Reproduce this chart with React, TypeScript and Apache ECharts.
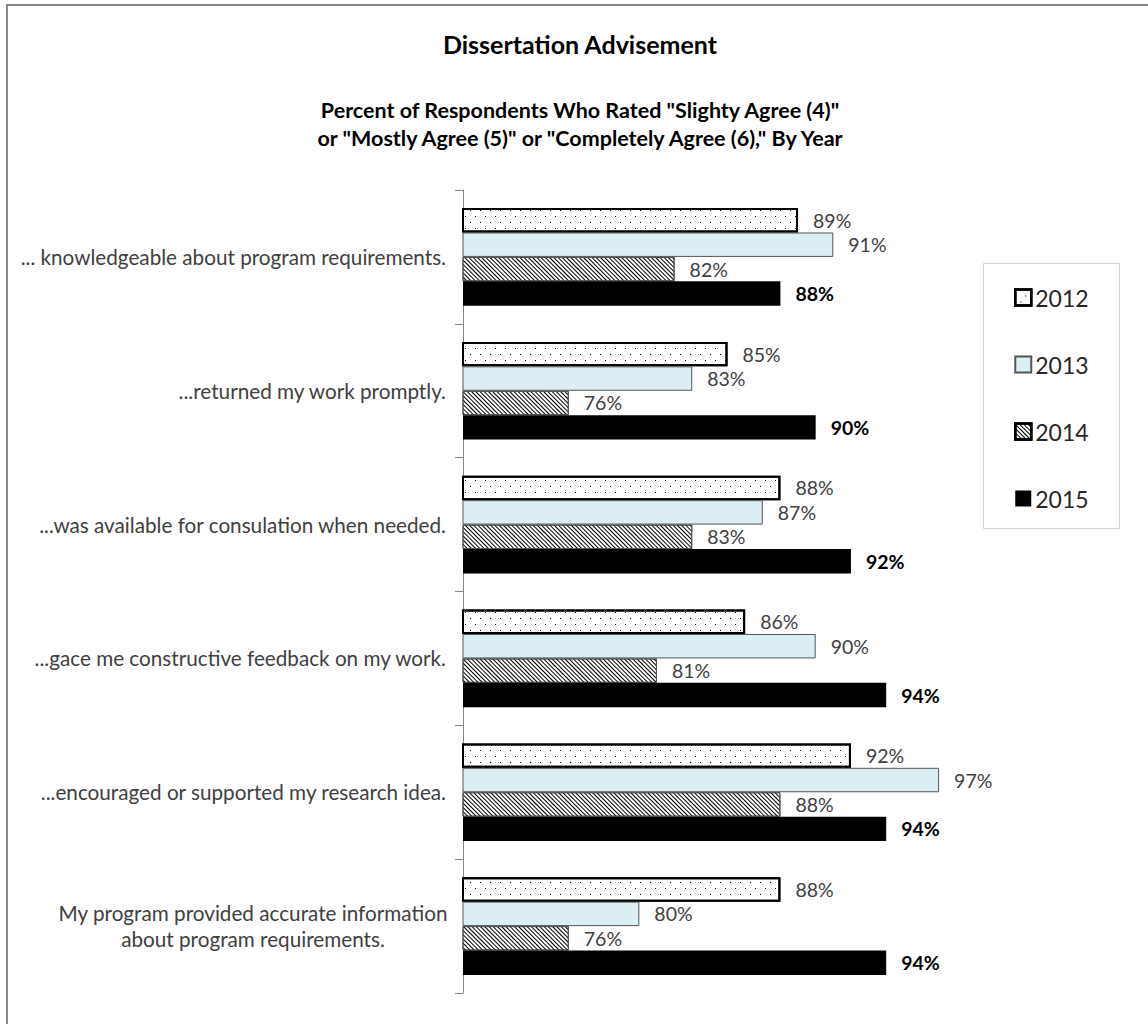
import React, { useEffect, useRef } from "react";
import * as echarts from "echarts";

const categories = [
  "... knowledgeable about program requirements.",
  "...returned my work promptly.",
  "...was available for consulation when needed.",
  "...gace me constructive feedback on my work.",
  "...encouraged or supported my research idea.",
  "My program provided accurate information\nabout program requirements.",
];
const years = ["2012", "2013", "2014", "2015"];
const v2012 = [89, 85, 88, 86, 92, 88];
const v2013 = [91, 83, 87, 90, 97, 80];
const v2014 = [82, 76, 83, 81, 88, 76];
const v2015 = [88, 90, 92, 94, 94, 94];

const titleText = "Dissertation Advisement";
const subtitleText =
  'Percent of Respondents Who Rated "Slighty Agree (4)"\nor "Mostly Agree (5)" or "Completely Agree (6)," By Year';

const FONT = "Lato";

export default function App() {
  const ref = useRef<HTMLDivElement>(null);
  useEffect(() => {
    if (!ref.current) return;
    const chart = echarts.init(ref.current, null, { renderer: "svg" });
    const labelBase = {
      show: true,
      position: "right",
      distance: 15,
      fontFamily: FONT,
      fontSize: 19.5,
      color: "#404040",
      formatter: "{c}%",
    };
    const dotDecal = {
      symbol: "rect",
      symbolSize: 1,
      color: "#000",
      dashArrayX: [
        [1, 9],
        [0, 5, 1, 4],
      ],
      dashArrayY: [1, 5],
      rotation: 0,
    };
    const hatchDecal = {
      symbol: "rect",
      symbolSize: 1,
      color: "#000",
      dashArrayX: [1, 0],
      dashArrayY: [1, 2],
      rotation: Math.PI / 4,
    };
    const option = {
      animation: false,
      backgroundColor: "#fff",
      title: [
        {
          text: titleText,
          left: 580,
          top: 30,
          padding: 0,
          textAlign: "center",
          textStyle: {
            fontFamily: FONT,
            fontSize: 25,
            fontWeight: "bold",
            color: "#000",
            lineHeight: 28,
          },
        },
        {
          text: subtitleText,
          left: 580,
          top: 96,
          padding: 0,
          textAlign: "center",
          textStyle: {
            fontFamily: FONT,
            fontSize: 21.5,
            fontWeight: "bold",
            color: "#000",
            lineHeight: 28,
          },
        },
      ],
      graphic: [
        {
          type: "rect",
          shape: { x: 7, y: 5, width: 1300, height: 1200 },
          style: { fill: "none", stroke: "#888", lineWidth: 2 },
          silent: true,
          z: 0,
        },
        {
          type: "rect",
          shape: { x: 983.5, y: 263.5, width: 136, height: 265 },
          style: { fill: "none", stroke: "#d0d0d0", lineWidth: 1 },
          silent: true,
          z: 0,
        },
      ],
      legend: {
        orient: "vertical",
        left: 1014,
        top: 286,
        padding: 0,
        itemWidth: 16,
        itemHeight: 16,
        itemGap: 44,
        icon: "rect",
        textStyle: {
          fontFamily: FONT,
          fontSize: 23,
          color: "#262626",
          lineHeight: 22,
          padding: [0, 0, 0, -1],
        },
        data: [
          { name: years[0], itemStyle: { borderColor: "#000", borderWidth: 2.5 } },
          { name: years[1] },
          { name: years[2], itemStyle: { borderColor: "#000", borderWidth: 2.5 } },
          { name: years[3] },
        ],
      },
      grid: {
        left: 463,
        right: 156,
        top: 190,
        bottom: 31,
        containLabel: false,
        outerBoundsMode: "none",
      },
      xAxis: {
        type: "value",
        min: 70,
        max: 100,
        show: false,
      },
      yAxis: {
        type: "category",
        inverse: true,
        data: categories,
        axisLine: { show: true, lineStyle: { color: "#868686", width: 1 } },
        axisTick: { show: true, length: 8, lineStyle: { color: "#868686" } },
        axisLabel: {
          margin: 17,
          fontFamily: FONT,
          fontSize: 20.7,
          color: "#404040",
          formatter: (v: string) =>
            v.indexOf("\n") >= 0
              ? v
                  .split("\n")
                  .map((s) => "{c|" + s + "}")
                  .join("\n")
              : v,
          rich: {
            c: {
              width: 386,
              align: "center",
              fontFamily: FONT,
              fontSize: 20.7,
              color: "#404040",
              lineHeight: 26,
            },
          },
        },
      },
      series: [
        {
          name: years[0],
          type: "bar",
          data: v2012,
          barGap: "0%",
          barCategoryGap: "27%",
          itemStyle: {
            color: "#fff",
            borderColor: "#000",
            borderWidth: 2,
            decal: dotDecal,
          },
          label: labelBase,
        },
        {
          name: years[1],
          type: "bar",
          data: v2013,
          barGap: "0%",
          barCategoryGap: "27%",
          itemStyle: { color: "#DAEEF3", borderColor: "#555", borderWidth: 1 },
          label: labelBase,
        },
        {
          name: years[2],
          type: "bar",
          data: v2014,
          barGap: "0%",
          barCategoryGap: "27%",
          itemStyle: {
            color: "#fff",
            borderColor: "#555",
            borderWidth: 1,
            decal: hatchDecal,
          },
          label: labelBase,
        },
        {
          name: years[3],
          type: "bar",
          data: v2015,
          barGap: "0%",
          barCategoryGap: "27%",
          itemStyle: { color: "#000", borderColor: "#000", borderWidth: 0 },
          label: { ...labelBase, fontWeight: "bold", color: "#000" },
        },
      ],
    };
    chart.setOption(option as any);
    return () => chart.dispose();
  }, []);
  return (
    <div
      ref={ref}
      style={{ position: "absolute", left: 0, top: 0, width: 1148, height: 1024 }}
    />
  );
}
